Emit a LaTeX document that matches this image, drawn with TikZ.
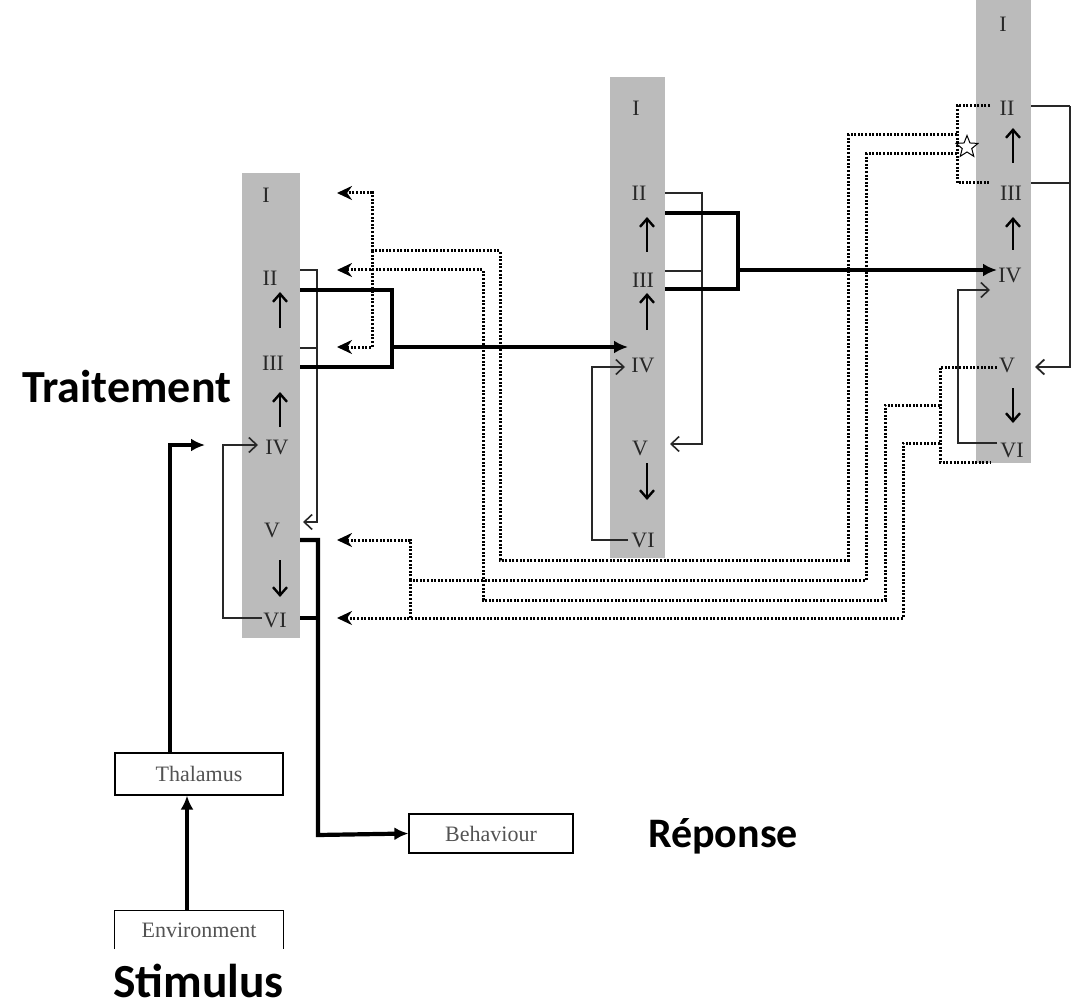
\documentclass[tikz,border=0pt]{standalone}
\usepackage{fontspec}
\setmainfont{Liberation Serif}
\newfontfamily\lblfont{Carlito}
\usetikzlibrary{arrows.meta,shapes.geometric}
\definecolor{colgray}{RGB}{187,187,187}
\definecolor{ink}{RGB}{40,40,40}
\begin{document}
\begin{tikzpicture}[x=1pt,y=-1pt,
  colbox/.style={fill=colgray,draw=none,inner sep=0,anchor=north west},
  layer/.style={font=\fontsize{22}{22}\selectfont,text=ink,inner sep=0},
  thickln/.style={line width=4.2pt,line join=miter},
  thickarr/.style={thickln,-{Latex[length=14pt,width=13pt]}},
  thinln/.style={line width=1.3pt,ink},
  thinarr/.style={thinln,-{Straight Barb[length=8pt,width=15pt,line width=1.6pt]}},
  dotln/.style={line width=3pt,dash pattern=on 2pt off 1.6pt},
  dotarr/.style={dotln,-{Stealth[length=15pt,width=14pt]}},
  uparr/.style={line width=2.4pt,-{Straight Barb[length=8pt,width=14pt]}},
  boxnode/.style={draw,line width=1.2pt,inner sep=0,font=\fontsize{22}{22}\selectfont,text=ink!80},
  biglbl/.style={font=\lblfont\bfseries\fontsize{46}{46}\selectfont,inner sep=0,anchor=base west}
]
\useasboundingbox (0,0) rectangle (1076,1008);

% ---------- columns ----------
\node[colbox,minimum width=58,minimum height=465] (col1) at (242,173) {};
\node[colbox,minimum width=55,minimum height=481] (col2) at (610,77) {};
\node[colbox,minimum width=55,minimum height=463] (col3) at (976,0) {};

% ---------- layer labels ----------
\node[layer] (a1) at (266,195) {I};
\node[layer] (a2) at (270,278) {II};
\node[layer] (a3) at (273,363) {III};
\node[layer] (a4) at (277,447) {IV};
\node[layer] (a5) at (272,530) {V};
\node[layer] (a6) at (275,620) {VI};

\node[layer] (b1) at (636,108) {I};
\node[layer] (b2) at (639,193) {II};
\node[layer] (b3) at (643,280) {III};
\node[layer] (b4) at (643,365) {IV};
\node[layer] (b5) at (640,448) {V};
\node[layer] (b6) at (643,540) {VI};

\node[layer] (c1) at (1003,24) {I};
\node[layer] (c2) at (1007,108) {II};
\node[layer] (c3) at (1011,193) {III};
\node[layer] (c4) at (1010,275) {IV};
\node[layer] (c5) at (1007,365) {V};
\node[layer] (c6) at (1012,450) {VI};

% ---------- arrows inside columns ----------
\coordinate (a23s) at (280,328); \coordinate (a23e) at (280,292);
\coordinate (a34s) at (280,427); \coordinate (a34e) at (280,392);
\coordinate (a56s) at (280,560); \coordinate (a56e) at (280,597);
\draw[uparr] (a23s) -- (a23e);
\draw[uparr] (a34s) -- (a34e);
\draw[uparr] (a56s) -- (a56e);

\coordinate (b23s) at (647,252); \coordinate (b23e) at (647,217);
\coordinate (b34s) at (647,330); \coordinate (b34e) at (647,293);
\coordinate (b56s) at (647,463); \coordinate (b56e) at (647,500);
\draw[uparr] (b23s) -- (b23e);
\draw[uparr] (b34s) -- (b34e);
\draw[uparr] (b56s) -- (b56e);

\coordinate (c23s) at (1013,163); \coordinate (c23e) at (1013,128);
\coordinate (c34s) at (1013,250); \coordinate (c34e) at (1013,217);
\coordinate (c56s) at (1013,388); \coordinate (c56e) at (1013,423);
\draw[uparr] (c23s) -- (c23e);
\draw[uparr] (c34s) -- (c34e);
\draw[uparr] (c56s) -- (c56e);

% ---------- boxes ----------
\node[boxnode,minimum width=168,minimum height=42] (thal) at (199,774) {Thalamus};
\node[inner sep=0,minimum width=168,minimum height=38,font=\fontsize{22}{22}\selectfont,text=ink!80] (env) at (199,930) {Environment};
\draw[line width=1.2pt] (env.south west) -- (env.north west) -- (env.north east) -- (env.south east);
\node[boxnode,minimum width=164,minimum height=39] (beh) at (491,833.5) {Behaviour};

% ---------- big labels ----------
\node[biglbl] (trait) at (22,402) {Traitement};
\node[biglbl,font=\lblfont\bfseries\fontsize{42}{42}\selectfont] (rep) at (648,847) {Réponse};
\node[biglbl,font=\lblfont\bfseries\fontsize{47.5}{47.5}\selectfont] (stim) at (113,997) {Stimulus};

% ---------- column 1 wiring ----------
\coordinate (a4in) at (258,445);
\coordinate (a5in) at (303,522);
\draw[thinln] (300,270) -- (317,270) -- (317,348) -- (300,348);
\draw[thinarr] (317,348) -- (317,522) -- (a5in);
\draw[thinarr] (262,618) -- (223,618) -- (223,445) -- (a4in);
\draw[thickln] (300,290) -- (392,290) -- (392,367) -- (300,367);
\draw[thickarr] (392,347) -- (628,347);
\draw[thickln] (300,618) -- (318,618);
\draw[thickarr] (300,540) -- (318,540) -- (318,835) -- (beh.west);
\draw[thickarr] (thal.north -| 170,0) -- (170,445) -- (205,445);
\draw[thickarr] (env.north -| 187,0) -- (thal.south -| 187,0);

% ---------- column 2 wiring ----------
\draw[thinln] (665,193) -- (702,193) -- (702,271) -- (665,271);
\draw[thinarr] (702,271) -- (702,444) -- (670,444);
\draw[thinarr] (628,540) -- (592,540) -- (592,367) -- (625,367);
\draw[thickln] (665,213) -- (738,213) -- (738,289) -- (665,289);
\draw[thickarr] (738,270) -- (997,270);

% ---------- column 3 wiring ----------
\draw[line width=1.4pt,ink] (1031,106) -- (1070,106);
\draw[line width=1.4pt,ink] (1031,183) -- (1070,183);
\draw[line width=2.4pt,ink,-{Straight Barb[length=8pt,width=15pt,line width=1.8pt]}] (1070,106) -- (1070,367) -- (1035,367);
\draw[thinarr] (997,443) -- (958,443) -- (958,290) -- (990,290);

% ---------- dotted feedback ----------
\draw[dotln] (990,106) -- (957,106) -- (957,183) -- (990,183);
\draw[dotln] (997,367) -- (940,367) -- (940,462) -- (990,462);
\node[star,star points=5,star point ratio=2.3,minimum size=23,inner sep=0,draw,fill=white,line width=1pt] (star) at (967,147) {};

% path A : top bracket -> col1 I / III
\draw[dotln] (957,135) -- (848,135) -- (848,560) -- (500,560) -- (500,251) -- (372,251);
\draw[dotarr] (372,251) -- (372,193) -- (337,193);
\draw[dotarr] (372,251) -- (372,347) -- (337,347);
% path B : top bracket -> col1 V / VI
\draw[dotln] (957,154) -- (866,154) -- (866,580) -- (410,580);
\draw[dotarr] (410,580) -- (410,540) -- (337,540);
\draw[dotln] (410,580) -- (410,618);
% path C : bottom bracket -> col1 II
\draw[dotarr] (940,405) -- (885,405) -- (885,600) -- (483,600) -- (483,270) -- (337,270);
% path D : bottom bracket -> col1 VI
\draw[dotarr] (940,443) -- (903,443) -- (903,618) -- (337,618);
\end{tikzpicture}
\end{document}
